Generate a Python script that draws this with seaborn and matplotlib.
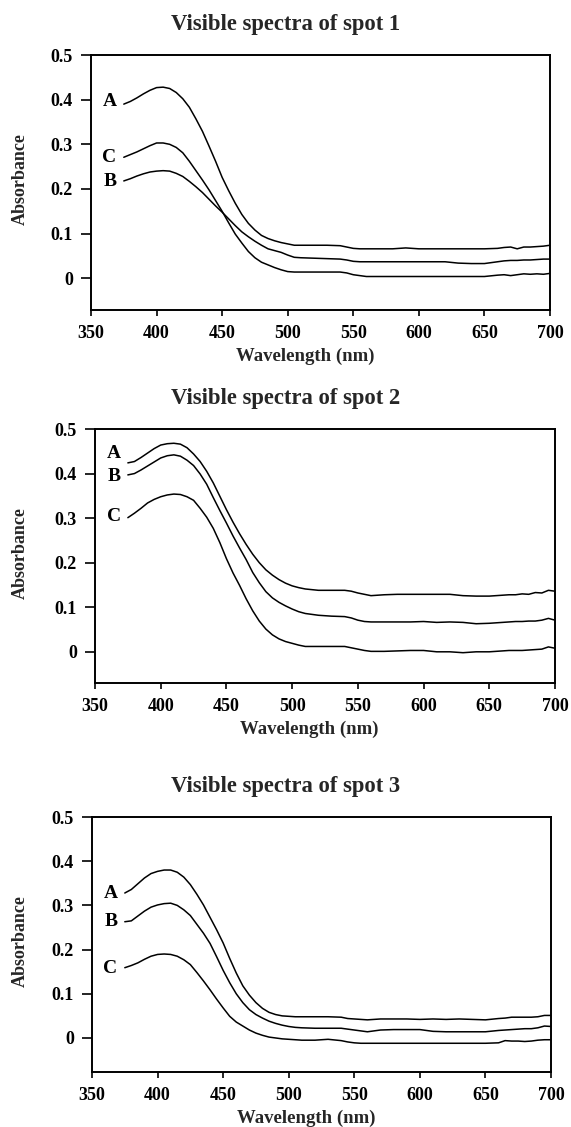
import numpy as np
import pandas as pd
import matplotlib
matplotlib.use("Agg")
import matplotlib.pyplot as plt
import seaborn as sns

# ---------------- data ----------------
wavelength = [375, 380, 385, 390, 395, 400, 405, 410, 415, 420, 425, 430, 435, 440,
              445, 450, 455, 460, 465, 470, 475, 480, 485, 490, 495, 500, 505, 510,
              520, 530, 540, 545, 550, 555, 560, 570, 580, 590, 600, 610, 620, 630,
              640, 650, 660, 665, 670, 675, 680, 685, 690, 695, 700]

spot1_A = [0.390, 0.396, 0.404, 0.413, 0.421, 0.427, 0.428, 0.425, 0.416, 0.402, 0.383, 0.357,
           0.329, 0.296, 0.262, 0.226, 0.196, 0.168, 0.143, 0.123, 0.108, 0.096, 0.089, 0.084,
           0.080, 0.077, 0.074, 0.074,
           0.074, 0.074, 0.073, 0.070, 0.067, 0.066, 0.066,
           0.066, 0.066, 0.068, 0.066, 0.066, 0.066, 0.066, 0.066, 0.066, 0.067,
           0.069, 0.070, 0.066, 0.070, 0.070, 0.071, 0.072, 0.074]
spot1_B = [0.218, 0.223, 0.229, 0.234, 0.238, 0.240, 0.241, 0.240, 0.235, 0.228, 0.217, 0.205,
           0.192, 0.177, 0.162, 0.148, 0.133, 0.118, 0.104, 0.093, 0.083, 0.074, 0.066, 0.062,
           0.058, 0.052, 0.047, 0.046,
           0.045, 0.044, 0.043, 0.041, 0.038, 0.037, 0.037,
           0.037, 0.037, 0.037, 0.037, 0.037, 0.037, 0.034, 0.033, 0.033, 0.037,
           0.039, 0.040, 0.040, 0.041, 0.041, 0.042, 0.043, 0.043]
spot1_C = [0.271, 0.277, 0.283, 0.290, 0.297, 0.303, 0.303, 0.300, 0.293, 0.281, 0.262, 0.241,
           0.220, 0.198, 0.174, 0.150, 0.124, 0.099, 0.079, 0.060, 0.046, 0.036, 0.030, 0.024,
           0.019, 0.015, 0.014, 0.014,
           0.014, 0.014, 0.014, 0.012, 0.008, 0.006, 0.004,
           0.004, 0.004, 0.004, 0.004, 0.004, 0.004, 0.004, 0.004, 0.004, 0.007,
           0.008, 0.006, 0.008, 0.010, 0.009, 0.010, 0.009, 0.011]

spot2_A = [0.424, 0.427, 0.436, 0.446, 0.456, 0.464, 0.467, 0.468, 0.466, 0.458, 0.444, 0.427,
           0.405, 0.379, 0.349, 0.319, 0.291, 0.265, 0.241, 0.219, 0.200, 0.184, 0.172, 0.162,
           0.154, 0.148, 0.144, 0.141,
           0.138, 0.138, 0.138, 0.136, 0.132, 0.129, 0.126,
           0.128, 0.129, 0.129, 0.129, 0.129, 0.129, 0.126, 0.125, 0.125, 0.127,
           0.128, 0.128, 0.130, 0.129, 0.133, 0.132, 0.138, 0.136]
spot2_B = [0.397, 0.400, 0.408, 0.417, 0.426, 0.435, 0.440, 0.442, 0.439, 0.430, 0.418, 0.399,
           0.376, 0.346, 0.317, 0.289, 0.260, 0.233, 0.207, 0.178, 0.155, 0.135, 0.121, 0.111,
           0.103, 0.096, 0.090, 0.086,
           0.082, 0.080, 0.079, 0.076, 0.071, 0.068, 0.067,
           0.067, 0.067, 0.067, 0.068, 0.066, 0.067, 0.066, 0.063, 0.064, 0.066,
           0.067, 0.068, 0.068, 0.069, 0.069, 0.071, 0.075, 0.071]
spot2_C = [0.301, 0.311, 0.322, 0.334, 0.342, 0.348, 0.352, 0.354, 0.353, 0.348, 0.340, 0.322,
           0.302, 0.277, 0.245, 0.209, 0.177, 0.149, 0.119, 0.092, 0.069, 0.051, 0.038, 0.029,
           0.023, 0.019, 0.015, 0.012,
           0.012, 0.012, 0.012, 0.009, 0.006, 0.003, 0.001,
           0.001, 0.002, 0.003, 0.003, 0.000, 0.000, -0.002, 0.000, 0.000, 0.002,
           0.003, 0.003, 0.003, 0.004, 0.005, 0.006, 0.011, 0.008]

spot3_A = [0.328, 0.336, 0.349, 0.362, 0.372, 0.377, 0.380, 0.380, 0.375, 0.364, 0.347, 0.325,
           0.301, 0.273, 0.245, 0.215, 0.180, 0.147, 0.118, 0.097, 0.080, 0.067, 0.058, 0.053,
           0.050, 0.049, 0.048, 0.048,
           0.048, 0.048, 0.047, 0.044, 0.043, 0.042, 0.041,
           0.043, 0.043, 0.043, 0.042, 0.043, 0.042, 0.043, 0.042, 0.041, 0.044,
           0.045, 0.047, 0.047, 0.047, 0.047, 0.048, 0.051, 0.051]
spot3_B = [0.263, 0.265, 0.276, 0.287, 0.296, 0.301, 0.304, 0.305, 0.300, 0.290, 0.277, 0.257,
           0.237, 0.214, 0.184, 0.153, 0.125, 0.100, 0.080, 0.064, 0.053, 0.045, 0.038, 0.033,
           0.029, 0.026, 0.024, 0.023,
           0.022, 0.022, 0.022, 0.020, 0.018, 0.016, 0.014,
           0.018, 0.019, 0.019, 0.019, 0.015, 0.014, 0.014, 0.014, 0.014, 0.017,
           0.018, 0.019, 0.020, 0.021, 0.021, 0.023, 0.027, 0.026]
spot3_C = [0.159, 0.164, 0.170, 0.178, 0.185, 0.189, 0.190, 0.189, 0.185, 0.177, 0.166, 0.148,
           0.129, 0.109, 0.088, 0.068, 0.049, 0.036, 0.027, 0.018, 0.011, 0.006, 0.002, 0.000,
           -0.002, -0.003, -0.004, -0.005,
           -0.005, -0.003, -0.006, -0.009, -0.011, -0.012, -0.012,
           -0.012, -0.012, -0.012, -0.012, -0.012, -0.012, -0.012, -0.012, -0.012, -0.011,
           -0.006, -0.007, -0.007, -0.008, -0.007, -0.005, -0.004, -0.004]

titles = ["Visible spectra of spot 1", "Visible spectra of spot 2", "Visible spectra of spot 3"]
curve_names = ["A", "B", "C"]
# vertical position (absorbance units) of the curve letters in each panel
label_y = [
    {"A": 0.395, "B": 0.217, "C": 0.271},
    {"A": 0.446, "B": 0.394, "C": 0.303},
    {"A": 0.327, "B": 0.263, "C": 0.158},
]
x_ticks = [350, 400, 450, 500, 550, 600, 650, 700]
y_ticks = [0, 0.1, 0.2, 0.3, 0.4, 0.5]
y_tick_labels = ["0", "0.1", "0.2", "0.3", "0.4", "0.5"]
x_label = "Wavelength (nm)"
y_label = "Absorbance"

panels = [
    {"A": spot1_A, "B": spot1_B, "C": spot1_C},
    {"A": spot2_A, "B": spot2_B, "C": spot2_C},
    {"A": spot3_A, "B": spot3_B, "C": spot3_C},
]

# ---------------- style ----------------
sns.set_theme(style="white")
plt.rcParams["font.family"] = ["Liberation Serif", "DejaVu Serif"]
plt.rcParams["font.weight"] = "bold"

W, H = 571, 1127
fig = plt.figure(figsize=(W / 100, H / 100), dpi=100)
fig.patch.set_facecolor("white")

# axes boxes in pixels: (left, top, right, bottom)
boxes = [(91, 55, 550, 310), (95, 429, 555, 683), (92, 817, 551, 1072)]
ylims = [(-0.071, 0.5), (-0.07, 0.5), (-0.077, 0.5)]
label_x = 369.5

for i, (panel, box) in enumerate(zip(panels, boxes)):
    l, t, r, b = box
    ax = fig.add_axes([l / W, 1 - b / H, (r - l) / W, (b - t) / H])
    df = pd.DataFrame({
        "wavelength": wavelength * 3,
        "absorbance": panel["A"] + panel["B"] + panel["C"],
        "curve": sum([[n] * len(wavelength) for n in curve_names], []),
    })
    sns.lineplot(data=df, x="wavelength", y="absorbance", units="curve",
                 estimator=None, color="black", linewidth=1.1, ax=ax, sort=False)
    ax.set_xlim(350, 700)
    ax.set_ylim(*ylims[i])
    ax.set_xticks(x_ticks)
    ax.set_xticklabels([str(v) for v in x_ticks])
    ax.set_yticks(y_ticks)
    ax.set_yticklabels(y_tick_labels)
    ax.set_xlabel("")
    ax.set_ylabel("")
    for s in ax.spines.values():
        s.set_visible(True)
        s.set_color("black")
        s.set_linewidth(1.4)
    ax.tick_params(axis="y", which="major", direction="out", length=7, width=1.2,
                   pad=6, labelsize=13, left=True, right=False, colors="black")
    ax.tick_params(axis="x", which="major", direction="out", length=4, width=1.2,
                   pad=7, labelsize=13, bottom=True, top=False, colors="black")
    for lab in ax.get_xticklabels() + ax.get_yticklabels():
        lab.set_fontweight("bold")
    # curve letters
    for name in curve_names:
        ax.text(label_x, label_y[i][name], name, ha="right", va="center",
                fontsize=14, fontweight="bold", color="black")
    # title and axis labels
    fig.text(0.5, 1 - (t - 25) / H, titles[i], ha="center", va="baseline",
             fontsize=16.3, fontweight="bold")
    fig.text((l + 214) / W, 1 - (b + 51) / H, x_label, ha="center",
             va="baseline", fontsize=13.5, fontweight="bold")
    fig.text(20 / W, 1 - ((t + b) / 2 - 3) / H, y_label, ha="center",
             va="center", rotation=90, fontsize=13, fontweight="bold")

fig.savefig("out.png", dpi=100, facecolor="white")
